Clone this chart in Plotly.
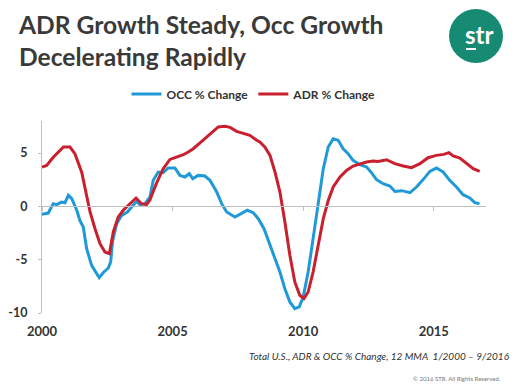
import plotly.graph_objects as go

# ---- data ----
occ_x = [2000.00, 2000.24, 2000.43, 2000.56, 2000.75, 2000.88, 2001.01, 2001.14, 2001.33, 2001.45,
         2001.58, 2001.71, 2001.90, 2002.09, 2002.19, 2002.35, 2002.54, 2002.63, 2002.70, 2002.86,
         2003.05, 2003.27, 2003.43, 2003.62, 2003.75, 2003.94, 2004.13, 2004.26, 2004.45, 2004.64,
         2004.83, 2005.09, 2005.28, 2005.47, 2005.64, 2005.77, 2005.98, 2006.24, 2006.43, 2006.69,
         2006.88, 2007.07, 2007.39, 2007.64, 2007.86, 2008.09, 2008.28, 2008.50, 2008.73, 2008.92,
         2009.11, 2009.30, 2009.49, 2009.68, 2009.85, 2010.00, 2010.19, 2010.38, 2010.57, 2010.77,
         2010.96, 2011.15, 2011.34, 2011.53, 2011.72, 2011.91, 2012.17, 2012.43, 2012.60, 2012.81,
         2013.06, 2013.32, 2013.51, 2013.77, 2014.09, 2014.34, 2014.60, 2014.85, 2015.10, 2015.36,
         2015.61, 2015.87, 2016.12, 2016.38, 2016.57, 2016.75]
occ_y = [-0.75, -0.63, 0.25, 0.16, 0.40, 0.34, 1.03, 0.72, -0.37, -1.31,
         -1.94, -3.97, -5.53, -6.30, -6.69, -6.20, -5.78, -5.20, -3.30, -1.60,
         -0.85, -0.53, -0.06, 0.47, 0.16, 0.25, 0.85, 2.44, 3.22, 3.16,
         3.60, 3.60, 2.90, 2.75, 3.06, 2.59, 2.90, 2.84, 2.44, 1.34,
         0.25, -0.53, -1.00, -0.69, -0.37, -0.60, -1.16, -2.10, -3.66, -4.90,
         -6.16, -7.72, -8.97, -9.59, -9.43, -8.50, -6.16, -3.03, 0.40, 3.53,
         5.56, 6.34, 6.19, 5.40, 4.94, 4.31, 3.90, 3.68, 3.20, 2.50,
         2.12, 1.90, 1.40, 1.47, 1.28, 1.81, 2.53, 3.28, 3.59, 3.22,
         2.44, 1.81, 1.09, 0.78, 0.34, 0.25]

adr_x = [2000.00, 2000.18, 2000.43, 2000.82, 2001.07, 2001.26, 2001.52, 2001.71, 2001.84, 2002.03,
         2002.22, 2002.41, 2002.58, 2002.73, 2002.92, 2003.11, 2003.30, 2003.60, 2003.81, 2004.00,
         2004.13, 2004.39, 2004.64, 2004.90, 2005.15, 2005.41, 2005.60, 2005.79, 2006.05, 2006.30,
         2006.56, 2006.75, 2007.00, 2007.20, 2007.45, 2007.70, 2007.96, 2008.22, 2008.34, 2008.53,
         2008.73, 2008.92, 2009.11, 2009.30, 2009.49, 2009.68, 2009.87, 2010.03, 2010.19, 2010.38,
         2010.57, 2010.77, 2010.96, 2011.15, 2011.41, 2011.66, 2011.91, 2012.17, 2012.43, 2012.68,
         2012.87, 2013.19, 2013.51, 2013.83, 2014.15, 2014.47, 2014.78, 2015.10, 2015.38, 2015.58,
         2015.74, 2016.00, 2016.25, 2016.51, 2016.76]
adr_y = [3.68, 3.84, 4.60, 5.56, 5.56, 4.94, 3.20, 1.03, -0.53, -2.10,
         -3.50, -4.28, -4.44, -2.40, -1.00, -0.37, 0.10, 0.78, 0.25, 0.16,
         0.60, 2.20, 3.53, 4.40, 4.62, 4.84, 5.09, 5.40, 5.96, 6.50,
         7.03, 7.44, 7.50, 7.40, 7.03, 6.81, 6.65, 6.19, 6.03, 5.56,
         4.78, 3.22, 1.34, -1.47, -4.59, -7.09, -8.34, -8.65, -8.03, -6.16,
         -3.66, -1.16, 0.56, 1.81, 2.75, 3.37, 3.78, 4.00, 4.15, 4.25,
         4.20, 4.37, 4.00, 3.78, 3.62, 4.00, 4.56, 4.78, 4.87, 5.03,
         4.72, 4.53, 4.06, 3.53, 3.28]

x_ticks = [2000, 2005, 2010, 2015]
x_tick_labels = ["2000", "2005", "2010", "2015"]
y_ticks = [-10, -5, 0, 5]
y_tick_labels = ["-10", "-5", "0", "5"]
y_range = [-10, 8]
x_range = [2000, 2017]

FONT = "Lato"
DARK = "#333333"
GRID = "#bfbfbf"
BLUE = "#1f9ad6"
RED = "#c8202e"

# the page body has an 8px margin: figure coordinates = page coordinates - 8
OFF = 8
W, H = 520, 386
PL, PT, PW, PH = 42, 121, 444, 192   # plot area in page pixels


def px(page_x):
    return (page_x - PL) / PW


def py(page_y):
    return (PT + PH - page_y) / PH


fig = go.Figure()
fig.add_trace(go.Scatter(x=occ_x, y=occ_y, mode="lines", name="OCC % Change",
                         line=dict(color=BLUE, width=3)))
fig.add_trace(go.Scatter(x=adr_x, y=adr_y, mode="lines", name="ADR % Change",
                         line=dict(color=RED, width=3)))
# helper (empty) trace for the axis drawn through zero
fig.add_trace(go.Scatter(x=[], y=[], xaxis="x2", showlegend=False, hoverinfo="skip"))

zero_pos = (0 - y_range[0]) / (y_range[1] - y_range[0])

fig.update_layout(
    width=W, height=H,
    margin=dict(l=PL - OFF, r=W - (PL - OFF) - PW, t=PT - OFF, b=H - (PT - OFF) - PH,
                autoexpand=False),
    paper_bgcolor="white", plot_bgcolor="white",
    font=dict(family=FONT, color=DARK),
    showlegend=True,
    legend=dict(orientation="h", xref="container", yref="container",
                x=(254 - OFF) / W, xanchor="center", y=1 - (94 - OFF) / H, yanchor="middle",
                font=dict(family=FONT, size=12, color=DARK, weight=700),
                itemwidth=30, bgcolor="rgba(0,0,0,0)"),
    xaxis=dict(range=x_range, tickvals=x_ticks, ticktext=x_tick_labels,
               showline=False, showgrid=False, zeroline=False, automargin=False,
               ticks="outside", ticklen=6, tickcolor="rgba(0,0,0,0)",
               tickfont=dict(family=FONT, size=13, color=DARK, weight=700)),
    xaxis2=dict(range=x_range, overlaying="x", anchor="free", position=zero_pos,
                side="bottom", tickvals=x_ticks, showticklabels=False, automargin=False,
                showline=True, linecolor=GRID, linewidth=1,
                ticks="outside", ticklen=4, tickcolor=GRID,
                showgrid=False, zeroline=False),
    yaxis=dict(range=y_range, tickvals=y_ticks, ticktext=y_tick_labels,
               showline=True, linecolor=GRID, linewidth=1, automargin=False,
               ticks="outside", ticklen=3, tickcolor=GRID,
               showgrid=False, zeroline=False, ticklabelstandoff=8,
               tickfont=dict(family=FONT, size=12.5, color=DARK, weight=700)),
)

# title
fig.add_annotation(text="ADR Growth Steady, Occ Growth<br>Decelerating Rapidly",
                   xref="paper", yref="paper",
                   x=px(16), y=py(8),
                   xanchor="left", yanchor="top", align="left", showarrow=False,
                   font=dict(family=FONT, size=24.6, color="#3a3a3a", weight=700))

# logo
fig.add_shape(type="circle", xref="paper", yref="paper",
              x0=px(449), x1=px(503), y0=py(63), y1=py(9),
              fillcolor="#168a72", line=dict(width=0), layer="above")
fig.add_annotation(text="str", xref="paper", yref="paper",
                   x=px(479), y=py(35),
                   xanchor="center", yanchor="middle", showarrow=False,
                   font=dict(family=FONT, size=24, color="white", weight=700))
fig.add_shape(type="line", xref="paper", yref="paper",
              x0=px(466), x1=px(476), y0=py(49), y1=py(49),
              line=dict(color="white", width=2))

# footer
fig.add_annotation(text="<i>Total U.S., ADR &amp; OCC % Change, 12 MMA  1/2000 – 9/2016</i>",
                   xref="paper", yref="paper",
                   x=px(512), y=py(356),
                   xanchor="right", yanchor="middle", showarrow=False,
                   font=dict(family=FONT, size=10, color=DARK))
fig.add_annotation(text="© 2016 STR. All Rights Reserved.",
                   xref="paper", yref="paper",
                   x=px(503), y=py(378),
                   xanchor="right", yanchor="middle", showarrow=False,
                   font=dict(family=FONT, size=6, color="#777777"))

fig.write_html("out.html")
